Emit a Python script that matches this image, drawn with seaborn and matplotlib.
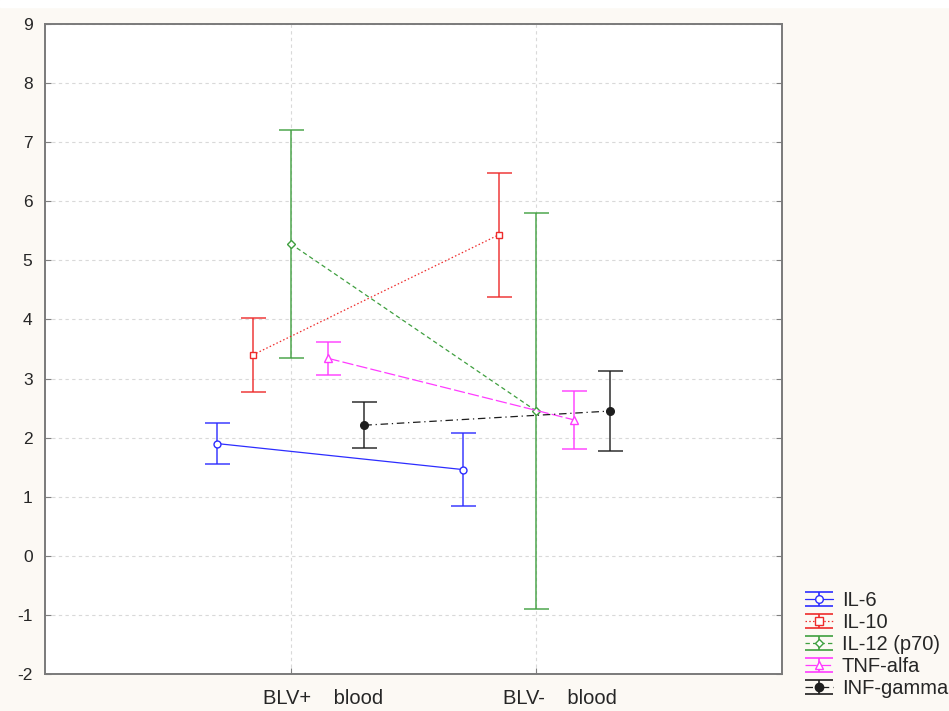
import numpy as np
import pandas as pd
import matplotlib
matplotlib.use("Agg")
import matplotlib.pyplot as plt
from matplotlib.patches import Rectangle
from matplotlib.transforms import ScaledTranslation
from matplotlib.legend_handler import HandlerErrorbar
from matplotlib.container import ErrorbarContainer
import seaborn as sns

# ---- data -------------------------------------------------------------
groups = ["BLV+    blood", "BLV-    blood"]
cytokines = ["IL-6", "IL-10", "IL-12 (p70)", "TNF-alfa", "INF-gamma"]

il6_mean = [1.90, 1.46]
il6_err = [0.34, 0.61]
il10_mean = [3.40, 5.43]
il10_err = [0.62, 1.05]
il12_mean = [5.28, 2.45]
il12_err = [1.93, 3.35]
tnf_mean = [3.34, 2.30]
tnf_err = [0.28, 0.49]
inf_mean = [2.21, 2.45]
inf_err = [0.39, 0.67]

means = [il6_mean, il10_mean, il12_mean, tnf_mean, inf_mean]
errs = [il6_err, il10_err, il12_err, tnf_err, inf_err]

# ---- styling ----------------------------------------------------------
colors = ["#2d2dff", "#ee2b2b", "#3f9f3f", "#ff3cff", "#1e1e1e"]
markers = ["o", "s", "D", "^", "o"]
marker_sizes = [5, 5, 4, 5.5, 5.5]
filled = [False, False, False, False, True]
dashes = [(None, None), (1.2, 1.8), (3.5, 2.5), (9, 2.5), (6, 3, 1, 3)]
dodge = [-0.30, -0.154, 0.0, 0.154, 0.30]
label_shift_px = [-28, -33]

rows = []
for name, m, e, d in zip(cytokines, means, errs, dodge):
    for gi, g in enumerate(groups):
        rows.append({"cytokine": name, "group": g, "x": gi + d,
                     "mean": m[gi], "err": e[gi]})
df = pd.DataFrame(rows)

sns.set_style("white")
plt.rcParams["font.family"] = ["Liberation Sans", "DejaVu Sans"]
plt.rcParams["axes.unicode_minus"] = False

fig = plt.figure(figsize=(9.49, 7.11), dpi=100, facecolor="#fcf9f4")
fig.patches.append(Rectangle((0, 1 - 7 / 711), 1, 7 / 711,
                             transform=fig.transFigure, color="white",
                             zorder=0))
ax = fig.add_axes([45 / 949, 37 / 711, (782 - 45) / 949, (674 - 24) / 711])
ax.set_facecolor("white")

legend_handles = []
for i, name in enumerate(cytokines):
    sub = df[df["cytokine"] == name]
    c = colors[i]
    mfc = c if filled[i] else "white"
    ls = "-" if dashes[i][0] is None else (0, dashes[i])
    sns.lineplot(data=sub, x="x", y="mean", ax=ax, color=c,
                 marker=markers[i], markersize=marker_sizes[i],
                 markerfacecolor=mfc, markeredgecolor=c, markeredgewidth=1.0,
                 linewidth=0.9, linestyle=ls, legend=False, zorder=4,
                 errorbar=None)
    ax.errorbar(sub["x"], sub["mean"], yerr=sub["err"], fmt="none",
                ecolor=c, elinewidth=1.2, capsize=9, capthick=1.2,
                alpha=0.85, zorder=3)
    h = ax.errorbar([np.nan], [np.nan], yerr=[1.0], color=c,
                    marker=markers[i], markersize=marker_sizes[i] + 0.5,
                    markerfacecolor=mfc, markeredgecolor=c,
                    linestyle=ls, linewidth=0.9, elinewidth=1.2,
                    capsize=10, capthick=1.2, label=name)
    legend_handles.append(h)

ax.set_xlim(-1, 2)
ax.set_ylim(-2, 9)
ax.set_yticks(range(-2, 10))
ax.set_xticks(range(len(groups)))
ax.set_xticklabels([])
# category labels, set slightly right of each tick
for gi, (g, dx) in enumerate(zip(groups, label_shift_px)):
    ax.text(gi, 0, g, fontsize=14.5, ha="left", va="top",
            transform=ax.get_xaxis_transform() +
            ScaledTranslation(dx / 100, -15 / 100, fig.dpi_scale_trans))
ax.tick_params(axis="y", labelsize=12.5, pad=9)
ax.tick_params(direction="in", length=4, color="#808080",
               left=True, right=True, bottom=True, top=False)
ax.set_xlabel("")
ax.set_ylabel("")
ax.grid(True, color="#d9d9d9", linestyle=(0, (3, 3)), linewidth=0.8)
ax.set_axisbelow(True)
for sp in ax.spines.values():
    sp.set_visible(True)
    sp.set_color("#7a7a7a")
    sp.set_linewidth(1.4)

fig.legend(handles=legend_handles, labels=cytokines,
           loc="upper left", bbox_to_anchor=(805 / 949, 1 - 591 / 711),
           frameon=False, fontsize=14.5, borderpad=0, borderaxespad=0,
           handlelength=1.4, handletextpad=0.43, labelspacing=0.15,
           handler_map={ErrorbarContainer: HandlerErrorbar(xerr_size=0.5,
                                                           yerr_size=0.34)})

fig.savefig("out.png", dpi=100, facecolor=fig.get_facecolor())
